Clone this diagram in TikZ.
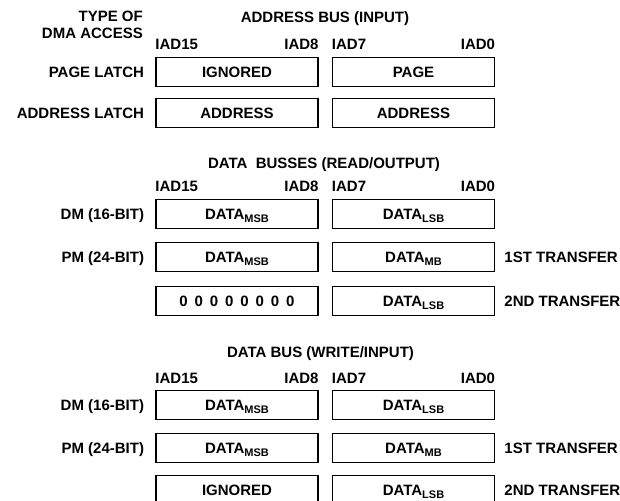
\documentclass[tikz,border=0pt]{standalone}
\usepackage{fontspec}
\setmainfont{Liberation Sans}
\usetikzlibrary{positioning}
\newcommand{\lowsub}[1]{\raisebox{-0.45ex}[0pt][0pt]{\fontsize{11}{11}\selectfont #1}}
\newcommand{\zgap}{\hspace{6.9pt}}
\tikzset{
  regbox/.style={rectangle,draw=black,line width=1.5pt,minimum width=162pt,minimum height=29pt,inner sep=0pt,
    text height=10.8pt,text depth=0pt,font=\fontsize{15}{16}\selectfont\bfseries},
  lbl/.style={inner sep=0pt,text height=10.8pt,text depth=0pt,font=\fontsize{15}{16}\selectfont\bfseries},
  bitlbl/.style={lbl,anchor=base west},
  bitlblr/.style={lbl,anchor=base east},
}
\begin{document}
\begin{tikzpicture}[x=1pt,y=-1pt,node distance=13pt]
\clip (0,0) rectangle (620,500);

% address bus
\node[lbl,anchor=east] (type1) at (143,16) {TYPE OF};
\node[lbl,anchor=east] (type2) at (143,33) {DMA ACCESS};
\node[lbl] (abus) at (325,17) {ADDRESS BUS (INPUT)};

\node[regbox] (pgh) at (237,72) {IGNORED};
\node[regbox,right=of pgh] (pgl) {PAGE};
\node[lbl,left=11pt of pgh] (pglat) {PAGE LATCH};

\node[regbox] (adh) at (237,113) {ADDRESS};
\node[regbox,right=of adh] (adl) {ADDRESS};
\node[lbl,left=11pt of adh] (adlat) {ADDRESS LATCH};

\node[bitlbl] at ([yshift=7pt]pgh.north west) {IAD15};
\node[bitlblr] at ([yshift=7pt]pgh.north east) {IAD8};
\node[bitlbl] at ([yshift=7pt]pgl.north west) {IAD7};
\node[bitlblr] at ([yshift=7pt]pgl.north east) {IAD0};

% data busses (read)
\node[lbl] (rbus) at (324,163) {DATA\ \ BUSSES (READ/OUTPUT)};

\node[regbox] (rdmh) at (237,214) {DATA\lowsub{MSB}};
\node[regbox,right=of rdmh] (rdml) {DATA\lowsub{LSB}};
\node[lbl,left=11pt of rdmh] (rdm) {DM (16-BIT)};

\node[regbox] (rpmh) at (237,257) {DATA\lowsub{MSB}};
\node[regbox,right=of rpmh] (rpml) {DATA\lowsub{MB}};
\node[lbl,left=11pt of rpmh] (rpm) {PM (24-BIT)};
\node[lbl,right=9pt of rpml] (rt1) {1ST TRANSFER};

\node[regbox] (rzh) at (237,301) {0\zgap0\zgap0\zgap0\zgap0\zgap0\zgap0\zgap0};
\node[regbox,right=of rzh] (rzl) {DATA\lowsub{LSB}};
\node[lbl,right=9pt of rzl] (rt2) {2ND TRANSFER};

\node[bitlbl] at ([yshift=7pt]rdmh.north west) {IAD15};
\node[bitlblr] at ([yshift=7pt]rdmh.north east) {IAD8};
\node[bitlbl] at ([yshift=7pt]rdml.north west) {IAD7};
\node[bitlblr] at ([yshift=7pt]rdml.north east) {IAD0};

% data bus (write)
\node[lbl] (wbus) at (320.5,352) {DATA BUS (WRITE/INPUT)};

\node[regbox] (wdmh) at (237,405) {DATA\lowsub{MSB}};
\node[regbox,right=of wdmh] (wdml) {DATA\lowsub{LSB}};
\node[lbl,left=11pt of wdmh] (wdm) {DM (16-BIT)};

\node[regbox] (wpmh) at (237,448) {DATA\lowsub{MSB}};
\node[regbox,right=of wpmh] (wpml) {DATA\lowsub{MB}};
\node[lbl,left=11pt of wpmh] (wpm) {PM (24-BIT)};
\node[lbl,right=9pt of wpml] (wt1) {1ST TRANSFER};

\node[regbox] (wigh) at (237,490) {IGNORED};
\node[regbox,right=of wigh] (wigl) {DATA\lowsub{LSB}};
\node[lbl,right=9pt of wigl] (wt2) {2ND TRANSFER};

\node[bitlbl] at ([yshift=6.5pt]wdmh.north west) {IAD15};
\node[bitlblr] at ([yshift=6.5pt]wdmh.north east) {IAD8};
\node[bitlbl] at ([yshift=6.5pt]wdml.north west) {IAD7};
\node[bitlblr] at ([yshift=6.5pt]wdml.north east) {IAD0};
\end{tikzpicture}
\end{document}
